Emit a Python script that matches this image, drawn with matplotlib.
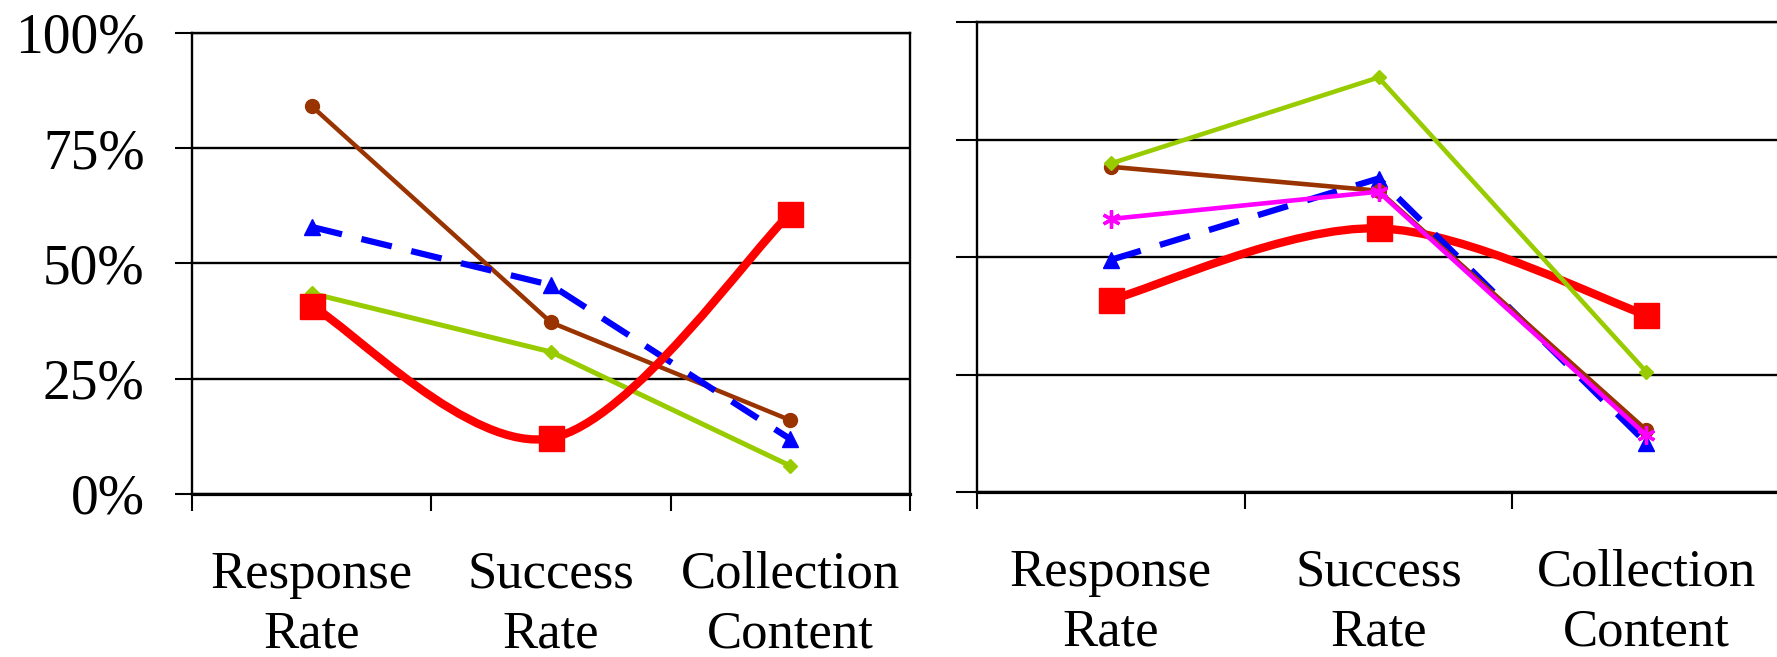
"""
Two-panel line chart: response / success rate / collection content
"""
import matplotlib
matplotlib.use("Agg")
import matplotlib.pyplot as plt
from matplotlib.path import Path
from matplotlib.patches import PathPatch

plt.rcParams['font.family'] = ['Liberation Serif', 'DejaVu Serif']

categories = ["Response\nRate", "Success\nRate", "Collection\nContent"]
y_ticks = [0, 25, 50, 75, 100]
y_tick_labels = ["0%", "25%", "50%", "75%", "100%"]

# left panel (percent)
left_brown = [84.1, 37.2, 16.0]
left_blue = [57.9, 45.3, 11.9]
left_green = [43.5, 30.8, 6.1]
left_red = [40.8, 12.1, 60.8]

# right panel (percent)
right_green = [69.9, 88.2, 25.6]
right_brown = [69.2, 64.1, 13.2]
right_magenta = [58.1, 63.9, 12.1]
right_blue = [49.4, 66.7, 10.5]
right_red = [40.9, 56.1, 37.7]

BROWN = "#993300"
BLUE = "#0000FF"
GREEN = "#99CC00"
RED = "#FF0000"
MAGENTA = "#FF00FF"
STAR = (6, 2, 0)


def smooth_line(ax, xs, ys, color, lw, zorder):
    # bezier through the points, like a spreadsheet "smoothed line"
    pts = list(zip(xs, ys))
    verts = [pts[0]]
    codes = [Path.MOVETO]
    n = len(pts)
    for i in range(n - 1):
        p0 = pts[i - 1] if i > 0 else pts[i]
        p1 = pts[i]
        p2 = pts[i + 1]
        p3 = pts[i + 2] if i + 2 < n else pts[i + 1]
        c1 = (p1[0] + (p2[0] - p0[0]) / 6, p1[1] + (p2[1] - p0[1]) / 6)
        c2 = (p2[0] - (p3[0] - p1[0]) / 6, p2[1] - (p3[1] - p1[1]) / 6)
        verts += [c1, c2, p2]
        codes += [Path.CURVE4] * 3
    patch = PathPatch(Path(verts, codes), facecolor="none", edgecolor=color,
                      lw=lw, zorder=zorder, capstyle="round", joinstyle="round")
    ax.add_patch(patch)


def style_axes(ax, show_labels):
    ax.set_xlim(0, 3)
    ax.set_ylim(0, 100)
    ax.set_yticks(y_ticks)
    if show_labels:
        ax.set_yticklabels(y_tick_labels, fontsize=40)
    else:
        ax.set_yticklabels([])
    ax.set_xticks([0, 1, 2, 3])
    ax.set_xticklabels([])
    ax.set_xticks([0.5, 1.5, 2.5], minor=True)
    ax.set_xticklabels(categories, minor=True, fontsize=38, linespacing=1.3)
    ax.tick_params(axis="x", which="major", direction="out", length=12,
                   width=1.5, color="black")
    ax.tick_params(axis="x", which="minor", length=0, pad=41)
    ax.tick_params(axis="y", direction="out", length=12, width=1.5, pad=22)
    ax.yaxis.grid(True, color="black", lw=1.7)
    ax.set_axisbelow(True)
    for s in ax.spines.values():
        s.set_color("black")
        s.set_linewidth(1.7)
    ax.spines["bottom"].set_linewidth(2.3)


fig = plt.figure(figsize=(17.77, 6.57), dpi=100)
ax1 = fig.add_axes([0.1080, 0.2481, 0.4041, 0.7021])
ax2 = fig.add_axes([0.5498, 0.2511, 0.4519, 0.7154])

x = [0.5, 1.5, 2.5]

# left panel
ax1.plot(x, left_brown, color=BROWN, lw=3.2, marker="o", ms=10, zorder=3)
ax1.plot(x, left_blue, color=BLUE, lw=4.5, ls=(0, (5, 3.2)), marker="^", ms=12, zorder=4)
ax1.plot(x, left_green, color=GREEN, lw=3.6, marker="D", ms=7.5, zorder=4)
smooth_line(ax1, x, left_red, RED, 6, 5)
ax1.plot(x, left_red, color=RED, ls="none", marker="s", ms=18, zorder=6)
style_axes(ax1, True)

# right panel
smooth_line(ax2, x, right_red, RED, 6, 3)
ax2.plot(x, right_red, color=RED, ls="none", marker="s", ms=18, zorder=3)
ax2.plot(x, right_blue, color=BLUE, lw=4.5, ls=(0, (5, 3.2)), marker="^", ms=12, zorder=4)
ax2.plot(x, right_brown, color=BROWN, lw=3.3, marker="o", ms=10, zorder=5)
ax2.plot(x, right_magenta, color=MAGENTA, lw=3.3, marker=STAR, ms=13, mew=2.4, zorder=6)
ax2.plot(x, right_green, color=GREEN, lw=3.3, marker="D", ms=7.5, zorder=7)
style_axes(ax2, False)
ax2.tick_params(axis="y", length=15)

fig.savefig("out.png", dpi=100)
